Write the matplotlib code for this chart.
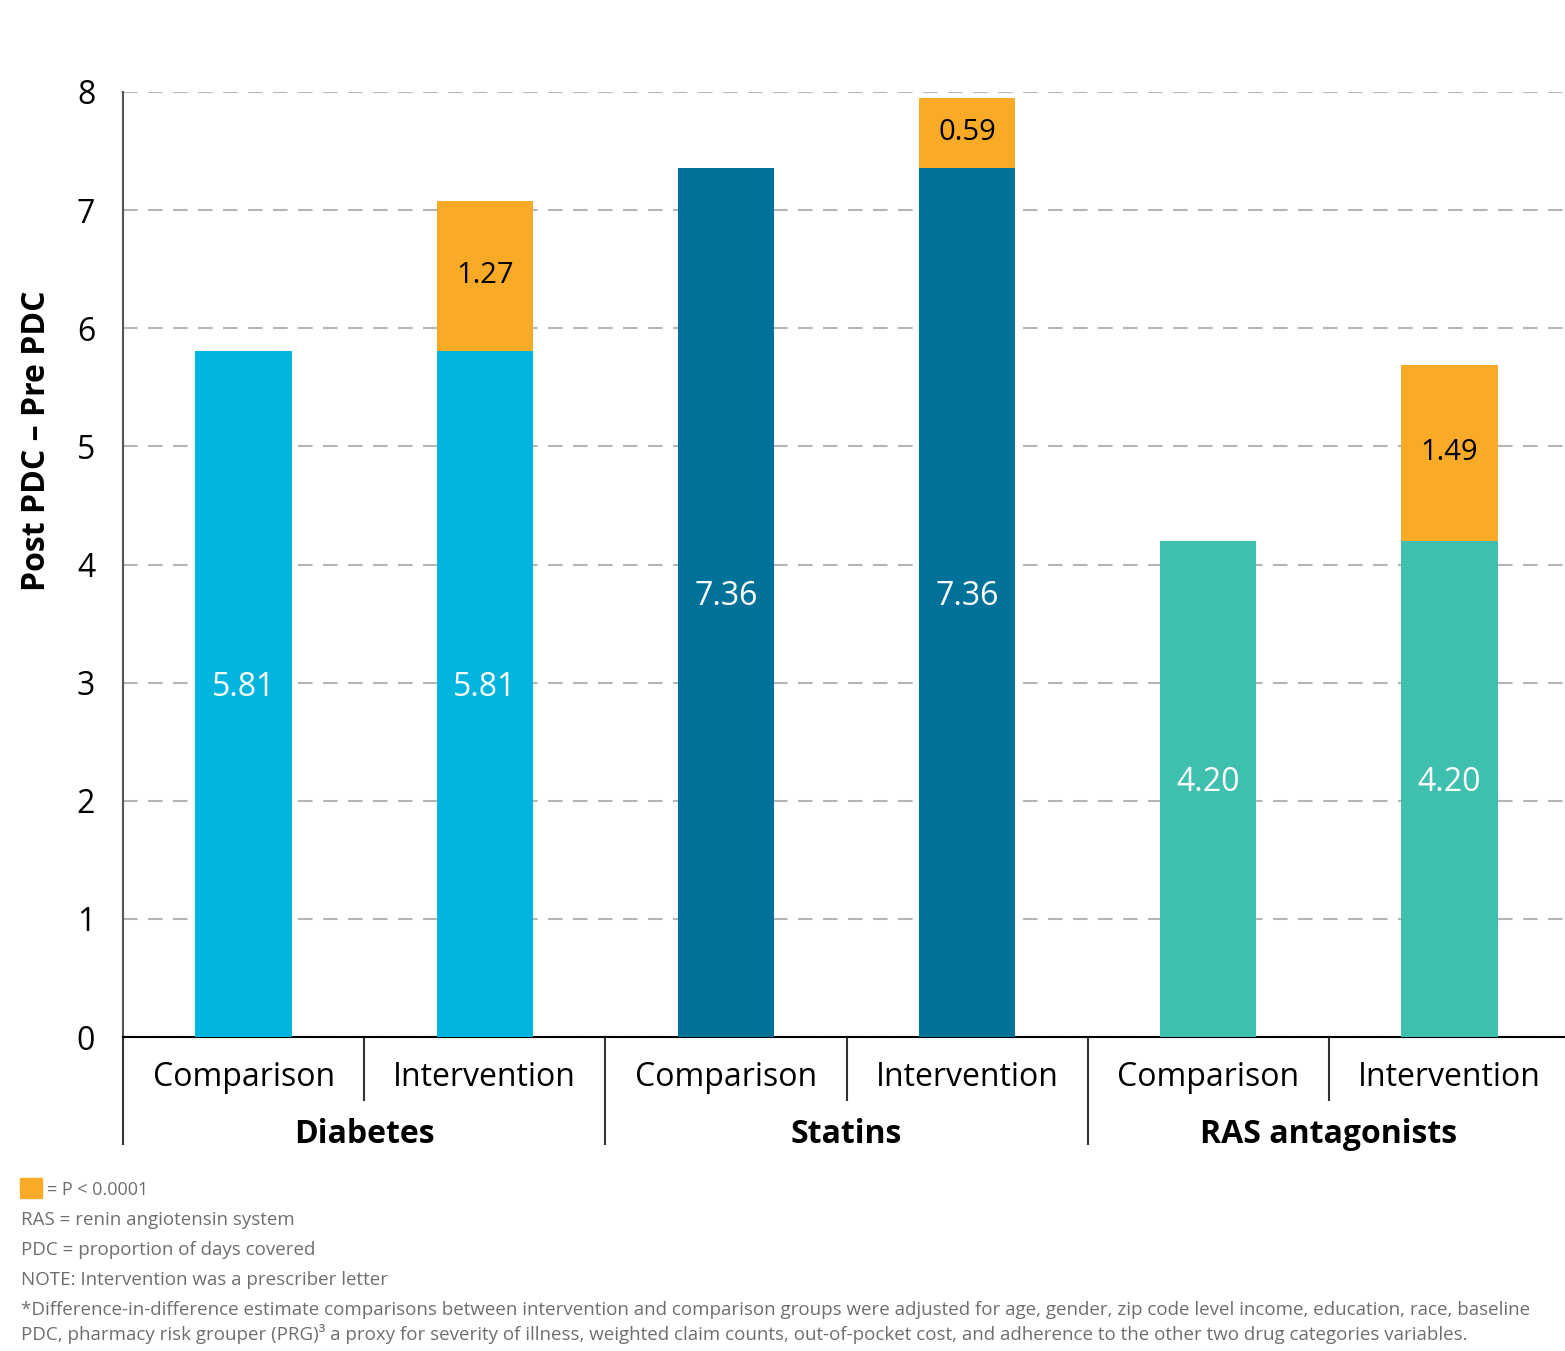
import matplotlib
matplotlib.use("Agg")
import matplotlib.pyplot as plt
import matplotlib.transforms as mtransforms

# data
groups = ["Diabetes", "Statins", "RAS antagonists"]
arms = ["Comparison", "Intervention"]
base_vals = [5.81, 5.81, 7.36, 7.36, 4.20, 4.20]
extra_vals = [0, 1.27, 0, 0.59, 0, 1.49]
base_cols = ["#00B5DD", "#00B5DD", "#00729A", "#00729A", "#3FBFAE", "#3FBFAE"]
orange = "#F9AB27"
yticks = [0, 1, 2, 3, 4, 5, 6, 7, 8]

notes = ["RAS = renin angiotensin system",
         "PDC = proportion of days covered",
         "NOTE: Intervention was a prescriber letter",
         "*Difference-in-difference estimate comparisons between intervention and comparison groups were adjusted for age, gender, zip code level income, education, race, baseline",
         "PDC, pharmacy risk grouper (PRG)\u00b3 a proxy for severity of illness, weighted claim counts, out-of-pocket cost, and adherence to the other two drug categories variables."]

plt.rcParams['font.family'] = ['Open Sans', 'DejaVu Sans']

W, H = 1565, 1351
fig = plt.figure(figsize=(W / 100, H / 100), dpi=100)
# axes run a little past the right edge, like the reference
ax = fig.add_axes([123 / W, 1 - 1037 / H, 1447 / W, (1037 - 92) / H])

x = list(range(len(base_vals)))
ax.bar(x, base_vals, width=0.4, color=base_cols, zorder=3)
ax.bar(x, extra_vals, width=0.4, bottom=base_vals, color=orange, zorder=3)

lift = mtransforms.offset_copy(ax.transData, fig=fig, x=0, y=6, units="dots")
for i in x:
    ax.text(i, base_vals[i] / 2, f"{base_vals[i]:.2f}", ha="center", va="center",
            color="white", fontsize=23, zorder=4, transform=lift)
    if extra_vals[i] > 0:
        ax.text(i, base_vals[i] + extra_vals[i] / 2, f"{extra_vals[i]:.2f}",
                ha="center", va="center", color="black", fontsize=21, zorder=4,
                transform=ax.transData)

ax.set_xlim(-0.5, 5.5)
ax.set_ylim(0, 8)
ax.set_yticks(yticks)
ax.set_yticklabels([str(t) for t in yticks], fontsize=23)
ax.tick_params(axis="y", length=0, pad=20)
ax.set_xticks([])
ax.yaxis.grid(True, linestyle=(0, (7, 5)), color="#B5B5B5", linewidth=1.5, zorder=0)
for s in ["top", "right"]:
    ax.spines[s].set_visible(False)
ax.spines["left"].set_color("#555555")
ax.spines["left"].set_linewidth(1.5)
ax.spines["bottom"].set_color("black")
ax.spines["bottom"].set_linewidth(1.5)
ax.set_ylabel("Post PDC \u2013 Pre PDC", fontsize=23, fontweight="bold")
ax.yaxis.set_label_coords(-70 / 1447, (1037 - 441) / 945)

# category axis underneath
tr = mtransforms.blended_transform_factory(ax.transData, ax.transAxes)
for k in range(len(x)):
    xs = k - 0.5
    low = -0.113 if k % 2 == 0 else -0.067
    ax.plot([xs, xs], [0, low], color="#333333", lw=1.5, transform=tr, clip_on=False)
    ax.text(k, -0.043, arms[k % 2], transform=tr, ha="center", va="center",
            fontsize=23, color="black")
for g, name in enumerate(groups):
    ax.text(2 * g + 0.5, -0.103, name, transform=tr, ha="center", va="center",
            fontsize=23, fontweight="bold", color="black")

# footnotes
fig.patches.append(plt.Rectangle((20 / W, 1 - 1198 / H), 22 / W, 20 / H,
                                 transform=fig.transFigure, color=orange))
fig.text(47 / W, 1 - 1190 / H, "= P < 0.0001", fontsize=13, color="#6E6E6E", va="center")
ys = [1220, 1250, 1280, 1310, 1334]
for yy, t in zip(ys, notes):
    fig.text(21 / W, 1 - yy / H, t, fontsize=13.5, color="#6E6E6E", va="center")

fig.savefig("out.png", dpi=100)
